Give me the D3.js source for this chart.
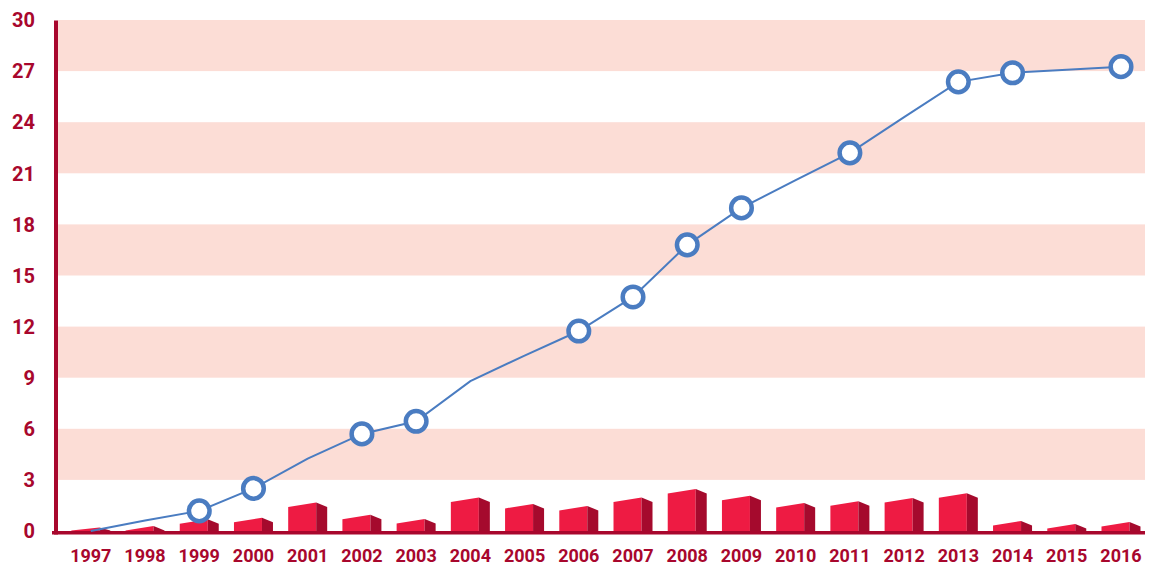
<!DOCTYPE html>
<html>
<head>
<meta charset="utf-8">
<script src="https://cdn.jsdelivr.net/npm/d3@7"></script>
<style>
  html, body { margin: 0; padding: 0; background: #ffffff; }
  svg { display: block; }
  text { font-family: Roboto, "Liberation Sans", Arial, sans-serif; font-weight: 700; fill: #A8072D; }
</style>
</head>
<body>
<svg id="chart" width="1159" height="566"></svg>
<script>
// Years on the x axis
const years = ["1997","1998","1999","2000","2001","2002","2003","2004","2005","2006",
               "2007","2008","2009","2010","2011","2012","2013","2014","2015","2016"];

// Yearly values (columns)
const barValues = [0.2, 0.3, 0.69, 0.78, 1.68, 0.96, 0.7, 1.96, 1.59, 1.47,
                   1.96, 2.47, 2.07, 1.64, 1.74, 1.94, 2.21, 0.59, 0.41, 0.53];

// Cumulative values (line)
const lineValues = [0, 0.62, 1.18, 2.5, 4.25, 5.7, 6.44, 8.8, 10.3, 11.74,
                    13.74, 16.8, 18.97, 20.6, 22.2, 24.3, 26.37, 26.9, 27.08, 27.26];

// Years whose line point carries a circle marker
const markedYears = ["1999","2000","2002","2003","2006","2007","2008","2009","2011","2013","2014","2016"];

// Y axis ticks
const yTicks = [0, 3, 6, 9, 12, 15, 18, 21, 24, 27, 30];

const svg = d3.select("#chart");

const x = d3.scaleBand().domain(years).range([63.7, 1148.1]).paddingInner(0).paddingOuter(0);
const y = d3.scaleLinear().domain([0, 30]).range([531, 20]);
const cx = yr => x(yr) + x.bandwidth() / 2;

const axisColor = "#A8072D";
const bandColor = "#FCDDD6";
const plotLeft = 58, plotRight = 1145;

// Alternating background stripes
const stripes = d3.pairs(yTicks).filter((d, i) => i % 2 === 1);
svg.append("g").selectAll("rect").data(stripes).join("rect")
  .attr("x", plotLeft)
  .attr("width", plotRight - plotLeft)
  .attr("y", d => y(d[1]))
  .attr("height", d => y(d[0]) - y(d[1]))
  .attr("fill", bandColor);

// Pseudo-3D columns: front face plus a darker right side face
const frontW = 28, sideW = 11, slant = 4.5;
const base = y(0);
const bars = svg.append("g").selectAll("g").data(years.map((yr, i) => ({ yr, v: barValues[i] }))).join("g");
bars.each(function(d) {
  const g = d3.select(this);
  const x0 = cx(d.yr) - (frontW + sideW) / 2;
  const x1 = x0 + frontW;
  const x2 = x1 + sideW;
  const top = y(d.v);
  const low = Math.min(top + slant, base - 0.5);
  g.append("path")
    .attr("d", `M${x0},${base} L${x0},${low} L${x1},${top} L${x1},${base} Z`)
    .attr("fill", "#EE1B43");
  g.append("path")
    .attr("d", `M${x1},${base} L${x1},${top} L${x2},${low} L${x2},${base} Z`)
    .attr("fill", "#A50A2D");
});

// Axis lines
svg.append("line")
  .attr("x1", 52).attr("x2", plotRight)
  .attr("y1", 532.8).attr("y2", 532.8)
  .attr("stroke", axisColor).attr("stroke-width", 3.5);
svg.append("line")
  .attr("x1", 56).attr("x2", 56)
  .attr("y1", 20.5).attr("y2", 534.5)
  .attr("stroke", axisColor).attr("stroke-width", 4);

// Y tick labels
svg.append("g").selectAll("text").data(yTicks).join("text")
  .attr("x", 35)
  .attr("y", d => y(d))
  .attr("dy", "0.36em")
  .attr("text-anchor", "end")
  .style("font-size", "20px")
  .text(d => d);

// X tick labels
svg.append("g").selectAll("text").data(years).join("text")
  .attr("x", d => cx(d))
  .attr("y", 561.5)
  .attr("text-anchor", "middle")
  .style("font-size", "18px")
  .text(d => d);

// Cumulative line
const pts = years.map((yr, i) => ({ yr, v: lineValues[i] }));
const line = d3.line()
  .x(d => cx(d.yr))
  .y(d => y(d.v));
svg.append("path")
  .datum(pts)
  .attr("d", line)
  .attr("fill", "none")
  .attr("stroke", "#4A7CC1")
  .attr("stroke-width", 2);

// Circle markers
svg.append("g").selectAll("circle").data(pts.filter(d => markedYears.includes(d.yr))).join("circle")
  .attr("cx", d => cx(d.yr))
  .attr("cy", d => y(d.v))
  .attr("r", 10.3)
  .attr("fill", "#ffffff")
  .attr("stroke", "#4A7CC1")
  .attr("stroke-width", 4.5);
</script>
</body>
</html>
